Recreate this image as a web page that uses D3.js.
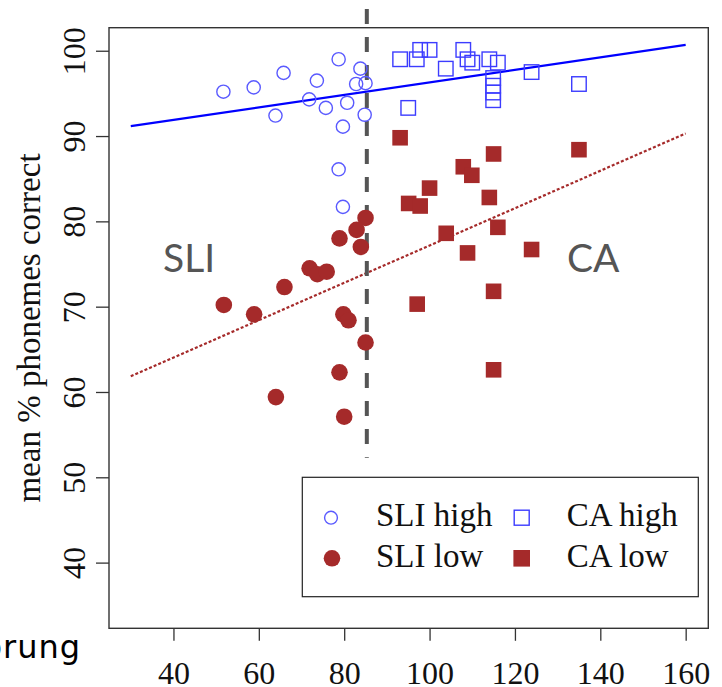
<!DOCTYPE html>
<html>
<head>
<meta charset="utf-8">
<script src="https://cdn.jsdelivr.net/npm/d3@7"></script>
<style>
  body { margin: 0; background: #fff; overflow: hidden; }
  svg { display: block; }
</style>
</head>
<body>
<div id="chart"></div>
<script>
// SLI high (open circles)
const sliHighAge   = [51.7, 58.8, 65.8, 63.9, 73.6, 71.8, 75.7, 78.7, 83.8, 82.8, 85.0, 80.7, 84.8, 79.7, 78.7, 79.7];
const sliHighScore = [95.2, 95.7, 97.4, 92.4, 96.5, 94.3, 93.3, 99.0, 97.9, 96.1, 96.2, 93.9, 92.5, 91.1, 86.1, 81.7];
// CA high (open squares)
const caHighAge   = [93.1, 97.0, 97.8, 100.0, 103.8, 107.9, 108.9, 110.0, 114.0, 116.0, 114.9, 114.9, 114.9, 114.9, 123.9, 135.0, 95.0];
const caHighScore = [99.0, 99.0, 100.1, 100.1, 97.9, 100.1, 99.0, 98.6, 99.0, 98.6, 96.8, 95.9, 95.1, 94.2, 97.5, 96.1, 93.3];
// SLI low (filled circles)
const sliLowAge   = [85.0, 82.9, 78.9, 83.9, 71.9, 73.7, 75.9, 66.0, 51.8, 58.9, 79.8, 81.0, 85.0, 78.9, 64.0, 80.0];
const sliLowScore = [80.4, 79.0, 78.0, 77.0, 74.5, 73.8, 74.1, 72.3, 70.2, 69.1, 69.1, 68.4, 65.8, 62.3, 59.4, 57.1];
// CA low (filled squares)
const caLowAge   = [93.1, 115.0, 135.0, 107.9, 109.9, 100.0, 95.1, 97.8, 114.0, 116.0, 103.9, 108.9, 123.9, 115.0, 97.1, 115.0];
const caLowScore = [89.8, 87.9, 88.4, 86.4, 85.4, 83.9, 82.1, 81.8, 82.8, 79.3, 78.6, 76.3, 76.7, 71.8, 70.3, 62.6];

// fitted lines
const fitAge = [30, 160];
const highFit = [91.15, 100.7];
const lowFit = [61.85, 90.3];

// group cut-off
const cutoffAge = 85.3;
const cutoffScore = [52.3, 104.9];

const xTicks = [40, 60, 80, 100, 120, 140, 160];
const yTicks = [40, 50, 60, 70, 80, 90, 100];
const yTitle = "mean % phonemes correct";
const legendLabels = ["SLI high", "CA high", "SLI low", "CA low"];

const W = 722, H = 687;
const serif = "'Liberation Serif', 'Times New Roman', serif";
const sans = "Lato, 'Noto Sans', sans-serif";
const brown = "#a52a2a";

const svg = d3.select("#chart").append("svg")
  .attr("width", W)
  .attr("height", H);

const x = d3.scaleLinear().domain([24.9, 165.3]).range([109, 708.3]);
const y = d3.scaleLinear().domain([32.3, 102.7]).range([628.3, 27.7]);

const zip = (a, b) => a.map((v, i) => [v, b[i]]);

// axes
const xAxis = svg.append("g")
  .attr("transform", `translate(0,${y.range()[0]})`)
  .call(d3.axisBottom(x).tickValues(xTicks).tickSize(12.5).tickSizeOuter(0).tickPadding(20));
const yAxis = svg.append("g")
  .attr("transform", `translate(${x.range()[0]},0)`)
  .call(d3.axisLeft(y).tickValues(yTicks).tickSize(13).tickSizeOuter(0));

[xAxis, yAxis].forEach(g => {
  g.attr("font-family", null);
  g.select(".domain").remove();
  g.selectAll(".tick line").attr("stroke", "#333").attr("stroke-width", 1.3);
  g.selectAll("text")
    .attr("fill", "#111")
    .style("font-family", serif)
    .style("font-size", "32px");
});
yAxis.selectAll("text")
  .attr("x", null).attr("dy", null)
  .attr("text-anchor", "middle")
  .attr("transform", "translate(-24,0) rotate(-90)");

// plot box
svg.append("rect")
  .attr("x", x.range()[0]).attr("y", y.range()[1])
  .attr("width", x.range()[1] - x.range()[0])
  .attr("height", y.range()[0] - y.range()[1])
  .attr("fill", "none")
  .attr("stroke", "#333")
  .attr("stroke-width", 1.4);

// y title
svg.append("text")
  .attr("transform", `translate(40,${(y.range()[0] + y.range()[1]) / 2}) rotate(-90)`)
  .attr("text-anchor", "middle")
  .attr("fill", "#111")
  .style("font-family", serif)
  .style("font-size", "33px")
  .text(yTitle);

// group labels
svg.append("text").attr("x", 163).attr("y", 271.7)
  .attr("fill", "#555").style("font-family", sans).style("font-size", "39px").text("SLI");
svg.append("text").attr("x", 567).attr("y", 271.7)
  .attr("fill", "#555").style("font-family", sans).style("font-size", "39px").text("CA");

// slide text running off the left edge
svg.append("text").attr("x", 81).attr("y", 657.5)
  .attr("text-anchor", "end")
  .attr("fill", "#000")
  .style("font-family", "'DejaVu Sans', sans-serif")
  .style("font-size", "32px")
  .style("letter-spacing", "1px")
  .text("Störung");

// regression lines
const line = d3.line().x(d => x(d[0])).y(d => y(d[1]));
svg.append("path")
  .datum(zip(fitAge, highFit))
  .attr("d", line)
  .attr("fill", "none")
  .attr("stroke", "#0000ff")
  .attr("stroke-width", 2.3);
svg.append("path")
  .datum(zip(fitAge, lowFit))
  .attr("d", line)
  .attr("fill", "none")
  .attr("stroke", brown)
  .attr("stroke-width", 2.2)
  .attr("stroke-dasharray", "3,2");

// cut-off
svg.append("line")
  .attr("x1", x(cutoffAge)).attr("x2", x(cutoffAge))
  .attr("y1", y(cutoffScore[1])).attr("y2", y(cutoffScore[0]))
  .attr("stroke", "#555")
  .attr("stroke-width", 4)
  .attr("stroke-dasharray", "15,13");

// points
const sq = 14.5;
svg.append("g").selectAll("circle")
  .data(zip(sliHighAge, sliHighScore)).join("circle")
  .attr("cx", d => x(d[0])).attr("cy", d => y(d[1]))
  .attr("r", 6.6)
  .attr("fill", "none")
  .attr("stroke", "#5a5aff")
  .attr("stroke-width", 1.4);
svg.append("g").selectAll("rect")
  .data(zip(caHighAge, caHighScore)).join("rect")
  .attr("x", d => x(d[0]) - sq / 2).attr("y", d => y(d[1]) - sq / 2)
  .attr("width", sq).attr("height", sq)
  .attr("fill", "none")
  .attr("stroke", "#3c3cff")
  .attr("stroke-width", 1.4);
svg.append("g").selectAll("circle")
  .data(zip(sliLowAge, sliLowScore)).join("circle")
  .attr("cx", d => x(d[0])).attr("cy", d => y(d[1]))
  .attr("r", 8.3)
  .attr("fill", brown);
svg.append("g").selectAll("rect")
  .data(zip(caLowAge, caLowScore)).join("rect")
  .attr("x", d => x(d[0]) - 7.8).attr("y", d => y(d[1]) - 7.8)
  .attr("width", 15.6).attr("height", 15.6)
  .attr("fill", brown);

// legend
const lg = svg.append("g");
lg.append("rect")
  .attr("x", 302.3).attr("y", 477.3)
  .attr("width", 396).attr("height", 119.4)
  .attr("fill", "#fff")
  .attr("stroke", "#222")
  .attr("stroke-width", 1.2);
const rows = [517.7, 558.3];
lg.append("circle").attr("cx", 331).attr("cy", rows[0]).attr("r", 6.4)
  .attr("fill", "none").attr("stroke", "#5a5aff").attr("stroke-width", 1.4);
lg.append("circle").attr("cx", 332).attr("cy", rows[1]).attr("r", 8.3).attr("fill", brown);
lg.append("rect").attr("x", 521.7 - 7.5).attr("y", rows[0] - 7.5).attr("width", 15).attr("height", 15)
  .attr("fill", "none").attr("stroke", "#3c3cff").attr("stroke-width", 1.4);
lg.append("rect").attr("x", 521.7 - 8.3).attr("y", rows[1] - 8.3).attr("width", 16.6).attr("height", 16.6)
  .attr("fill", brown);
const lx = [376, 566.7, 376, 566.7];
const ly = [526, 526, 566.7, 566.7];
lg.selectAll("text.lab")
  .data(legendLabels).join("text")
  .attr("class", "lab")
  .attr("x", (d, i) => lx[i]).attr("y", (d, i) => ly[i])
  .attr("fill", "#111")
  .style("font-family", serif)
  .style("font-size", "33px")
  .text(d => d);
</script>
</body>
</html>
